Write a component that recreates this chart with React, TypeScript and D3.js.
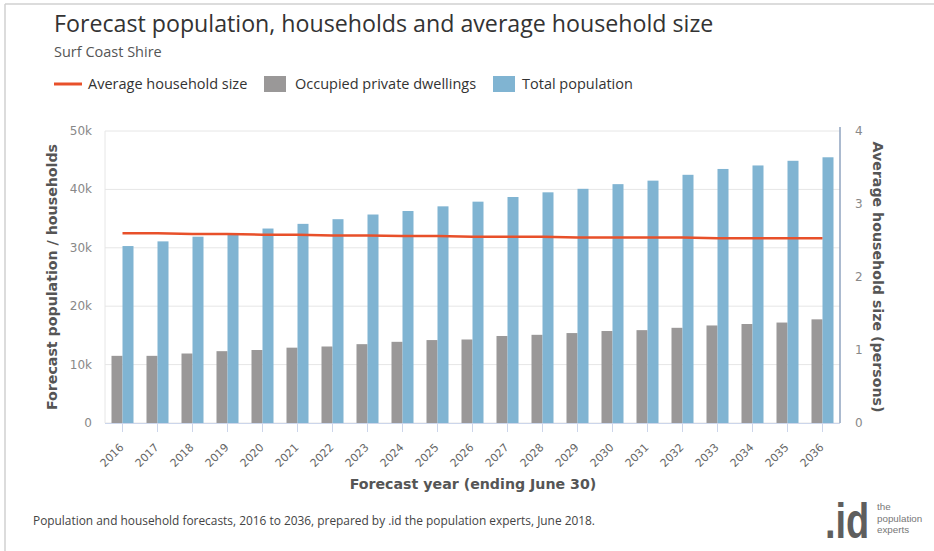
import React from "react";
import * as d3 from "d3";

const years = [
  "2016", "2017", "2018", "2019", "2020", "2021", "2022", "2023", "2024", "2025", "2026",
  "2027", "2028", "2029", "2030", "2031", "2032", "2033", "2034", "2035", "2036",
];
const dwellings = [
  11500, 11500, 11900, 12300, 12500, 12900, 13100, 13500, 13900, 14200, 14300,
  14900, 15100, 15400, 15750, 15900, 16300, 16700, 16950, 17200, 17750,
];
const population = [
  30300, 31100, 31900, 32500, 33300, 34100, 34900, 35700, 36300, 37100, 37900,
  38700, 39500, 40100, 40900, 41500, 42500, 43500, 44100, 44900, 45500,
];
const avgSize = [
  2.6, 2.6, 2.59, 2.59, 2.58, 2.58, 2.57, 2.57, 2.56, 2.56, 2.55,
  2.55, 2.55, 2.54, 2.54, 2.54, 2.54, 2.53, 2.53, 2.53, 2.53,
];
const leftTicks = [0, 10000, 20000, 30000, 40000, 50000];
const rightTicks = [0, 1, 2, 3, 4];

const title = "Forecast population, households and average household size";
const subtitle = "Surf Coast Shire";
const legendLabels = ["Average household size", "Occupied private dwellings", "Total population"];
const footer =
  "Population and household forecasts, 2016 to 2036, prepared by .id the population experts, June 2018.";
const logoWords = ["the", "population", "experts"];

const C_LINE = "#e8502a";
const C_GRAY = "#9a9898";
const C_BLUE = "#80b4d2";

export default function App() {
  const left = 105, right = 840, top = 131, bottom = 423;
  const x = d3.scaleBand<string>().domain(years).range([left, right]);
  const bw = x.bandwidth();
  const inner = d3.scaleBand<string>().domain(["d", "p"]).range([bw / 2 - 11, bw / 2 + 11]);
  const yL = d3.scaleLinear().domain([0, 50000]).range([bottom, top]);
  const yR = d3.scaleLinear().domain([0, 4]).range([bottom, top]);
  const line = d3
    .line<number>()
    .x((_, i) => (x(years[i]) as number) + bw / 2)
    .y((d) => yR(d));
  const fmt = (v: number) => (v === 0 ? "0" : `${v / 1000}k`);
  const sans = "'Open Sans', sans-serif";
  const dv = "'DejaVu Sans', sans-serif";

  return (
    <svg
      width={934}
      height={551}
      style={{ position: "absolute", left: 0, top: 0, background: "#fff" }}
    >
      <rect x={0} y={0} width={934} height={551} fill="#fff" />
      <line x1={5} y1={4} x2={934} y2={4} stroke="#d0d0d0" strokeWidth={1.5} />
      <line x1={5} y1={4} x2={5} y2={551} stroke="#d0d0d0" strokeWidth={1.5} />

      <text x={54} y={32} fontFamily={sans} fontSize={23.2} fill="#333">
        {title}
      </text>
      <text x={54} y={57} fontFamily={sans} fontSize={14.5} fill="#555">
        {subtitle}
      </text>

      {/* legend */}
      <g fontFamily={sans} fontSize={14.5} fill="#333">
        <line x1={54} x2={82} y1={84} y2={84} stroke={C_LINE} strokeWidth={3} />
        <text x={88} y={89}>{legendLabels[0]}</text>
        <rect x={264} y={76} width={22} height={16} fill={C_GRAY} />
        <text x={295} y={89}>{legendLabels[1]}</text>
        <rect x={493} y={76} width={22} height={16} fill={C_BLUE} />
        <text x={522} y={89}>{legendLabels[2]}</text>
      </g>

      {/* grid */}
      {leftTicks.map((t) => (
        <line key={t} x1={left} x2={right} y1={yL(t)} y2={yL(t)} stroke="#e6e6e6" />
      ))}
      <line x1={left} x2={left} y1={top} y2={bottom} stroke="#e6e6e6" />

      {/* bars */}
      {years.map((yr, i) => (
        <g key={yr}>
          <rect
            x={(x(yr) as number) + (inner("d") as number)}
            y={yL(dwellings[i])}
            width={inner.bandwidth()}
            height={bottom - yL(dwellings[i])}
            fill={C_GRAY}
          />
          <rect
            x={(x(yr) as number) + (inner("p") as number)}
            y={yL(population[i])}
            width={inner.bandwidth()}
            height={bottom - yL(population[i])}
            fill={C_BLUE}
          />
        </g>
      ))}

      <path d={line(avgSize) || ""} fill="none" stroke={C_LINE} strokeWidth={2.5} />

      {/* x axis */}
      <line x1={left} x2={right} y1={bottom + 0.5} y2={bottom + 0.5} stroke="#ccd6eb" />
      {years.map((yr) => {
        const cx = (x(yr) as number) + bw / 2;
        return (
          <g key={yr}>
            <line x1={cx} x2={cx} y1={bottom} y2={bottom + 9} stroke="#ccd6eb" />
            <text
              transform={`translate(${cx + 2},${bottom + 25}) rotate(-45)`}
              textAnchor="end"
              fontFamily={dv}
              fontSize={11}
              fill="#666"
            >
              {yr}
            </text>
          </g>
        );
      })}
      <line x1={right} x2={right} y1={top - 4} y2={bottom} stroke="#8fa3bf" strokeWidth={1.5} />

      {/* left ticks */}
      {leftTicks.map((t) => (
        <text
          key={t}
          x={92}
          y={yL(t) + 4}
          textAnchor="end"
          fontFamily={dv}
          fontSize={12}
          fill="#888"
        >
          {fmt(t)}
        </text>
      ))}
      {rightTicks.map((t) => (
        <text
          key={t}
          x={855}
          y={yR(t) + 4}
          textAnchor="start"
          fontFamily={dv}
          fontSize={12}
          fill="#888"
        >
          {t}
        </text>
      ))}

      <text
        transform={`translate(57,${(top + bottom) / 2}) rotate(-90)`}
        textAnchor="middle"
        fontFamily={dv}
        fontWeight="bold"
        fontSize={14.2}
        fill="#555"
      >
        Forecast population / households
      </text>
      <text
        transform={`translate(873,${(top + bottom) / 2}) rotate(90)`}
        textAnchor="middle"
        fontFamily={dv}
        fontWeight="bold"
        fontSize={14.2}
        fill="#555"
      >
        Average household size (persons)
      </text>
      <text
        x={473}
        y={489}
        textAnchor="middle"
        fontFamily={dv}
        fontWeight="bold"
        fontSize={14.2}
        fill="#555"
      >
        Forecast year (ending June 30)
      </text>

      <text x={33} y={525} fontFamily={sans} fontSize={11.9} fill="#444">
        {footer}
      </text>

      {/* logo */}
      <text
        transform="translate(825,538) scale(1,1.3)"
        fontFamily="'Liberation Sans', sans-serif"
        fontWeight="bold"
        fontSize={38}
        fill="#5e5e5e"
      >
        .id
      </text>
      <g fontFamily="'Liberation Sans Narrow', 'Liberation Sans', sans-serif" fontSize={9.8} fill="#777">
        {logoWords.map((w, i) => (
          <text key={w} x={877} y={510 + i * 11.5}>
            {w}
          </text>
        ))}
      </g>
    </svg>
  );
}
